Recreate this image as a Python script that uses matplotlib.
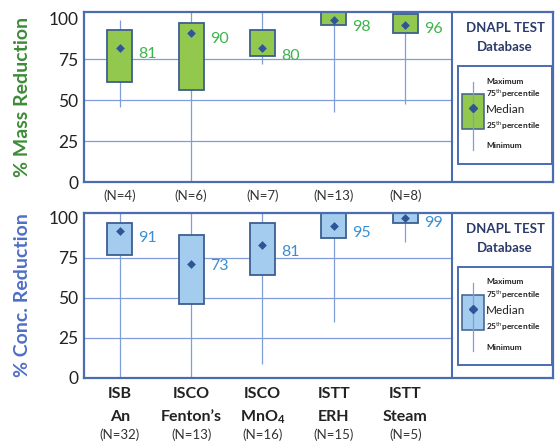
import matplotlib
matplotlib.use("Agg")
import matplotlib.pyplot as plt
from matplotlib.patches import Rectangle
from matplotlib.transforms import blended_transform_factory

plt.rcParams['font.family'] = ['Lato', 'DejaVu Sans']
plt.rcParams['mathtext.fontset'] = 'custom'
plt.rcParams['mathtext.rm'] = 'Lato'
plt.rcParams['mathtext.bf'] = 'Lato:bold'

# technologies
cat_top = ["ISB", "ISCO", "ISCO", "ISTT", "ISTT"]
cat_bot = ["An", "Fenton\u2019s", "MnO$_\\mathbf{4}$", "ERH", "Steam"]

# % mass reduction
mass_n = ["(N=4)", "(N=6)", "(N=7)", "(N=13)", "(N=8)"]
mass_min = [46, 0, 72, 43, 48]
mass_q1 = [61, 56, 77, 96, 91]
mass_med = [82, 91, 82, 99, 96]
mass_q3 = [93, 97, 93, 105, 103]
mass_max = [99, 105, 105, 105, 105]
mass_lbl = ["81", "90", "80", "98", "96"]

# % concentration reduction
conc_n = ["(N=32)", "(N=13)", "(N=16)", "(N=15)", "(N=5)"]
conc_min = [0, 0, 9, 35, 85]
conc_q1 = [76.5, 46, 64, 87.5, 97]
conc_med = [92, 71, 83, 95, 100]
conc_q3 = [97, 89, 97, 105, 105]
conc_max = [105, 105, 105, 105, 105]
conc_lbl = ["91", "73", "81", "95", "99"]

W, H = 555, 445
FRAME = "#4a6db0"
GRID = "#7f9ed8"
EDGE = "#3d5f90"
DIAM = "#2f5597"
NAVY = "#2b3a6b"

fig = plt.figure(figsize=(W / 100, H / 100), dpi=100)


def px(x, y):
    return x / W, 1 - y / H


def panel(rect, ymax, mins, q1, med, q3, maxs, lbls, fill, lblcolor, ylab, ylabcolor,
          frame_top, lbl_dy):
    ax = fig.add_axes(rect)
    xs = [1, 2, 3, 4, 5]
    ax.set_xlim(0.5, 7.07)
    ax.set_ylim(0, ymax)
    div = 5.65
    for g in [25, 50, 75]:
        ax.plot([0.5, div], [g, g], color=GRID, lw=0.9, zorder=1)
    ax.vlines(xs, mins, maxs, color=GRID, lw=0.9, zorder=1)
    heights = [b - a for a, b in zip(q1, q3)]
    ax.bar(xs, heights, bottom=q1, width=0.35, color=fill, edgecolor=EDGE,
           linewidth=1.3, zorder=2)
    ax.scatter(xs, med, marker="D", s=20, color=DIAM, zorder=3, linewidths=0)
    for x, m, t, dy in zip(xs, med, lbls, lbl_dy):
        ax.annotate(t, (x + 0.26, m), xytext=(0, dy), textcoords="offset points",
                    ha="left", va="center", fontsize=11.5, color=lblcolor)
    ax.axvline(div, color=FRAME, lw=1.5, zorder=4)
    for s in ax.spines.values():
        s.set_color(FRAME)
        s.set_linewidth(1.6)
    ax.set_xticks([])
    ax.set_yticks([0, 25, 50, 75, 100])
    ax.tick_params(axis="y", length=0, labelsize=12.5, labelcolor="#222222", pad=4)
    ax.set_ylabel(ylab, fontsize=14, fontweight="bold", color=ylabcolor)

    # legend panel, in figure pixels relative to the frame top
    t = frame_top
    fig.text(*px(505, t + 16), "DNAPL TEST", ha="center", va="center",
             fontsize=9.5, fontweight="bold", color=NAVY)
    fig.text(*px(505, t + 35), "Database", ha="center", va="center",
             fontsize=9.5, fontweight="bold", color=NAVY)
    bx0, by0 = px(458, t + 152)
    bx1, by1 = px(552, t + 54)
    fig.add_artist(Rectangle((bx0, by0), bx1 - bx0, by1 - by0, transform=fig.transFigure,
                             facecolor="white", edgecolor=FRAME, lw=1.4))
    wx, wy0 = px(473, t + 138)
    _, wy1 = px(473, t + 70)
    fig.add_artist(plt.Line2D([wx, wx], [wy0, wy1], transform=fig.transFigure,
                              color=GRID, lw=0.9))
    rx0, ry0 = px(462, t + 117)
    rx1, ry1 = px(484, t + 82)
    fig.add_artist(Rectangle((rx0, ry0), rx1 - rx0, ry1 - ry0, transform=fig.transFigure,
                             facecolor=fill, edgecolor=EDGE, lw=1.1))
    dx, dy_ = px(473, t + 96)
    fig.add_artist(plt.Line2D([dx], [dy_], transform=fig.transFigure, marker="D",
                              markersize=4, color=DIAM, lw=0))
    items = [("Maximum", 69, 6.0), ("75$^{\\rm th}$percentile", 82, 6.0),
             ("Median", 97, 8.5), ("25$^{\\rm th}$percentile", 114, 6.0),
             ("Minimum", 134, 6.0)]
    for txt, yy, fs in items:
        fig.text(*px(486, t + yy), txt, ha="left", va="center", fontsize=fs,
                 color="#222222", fontweight="bold" if fs < 7 else "normal")
    return ax


ax1 = panel([84 / W, 1 - 182 / H, 469 / W, 170 / H], 104, mass_min, mass_q1, mass_med,
            mass_q3, mass_max, mass_lbl, "#92c84e", "#3cb54a", "% Mass Reduction",
            "#3d8b37", 12, [-4, -4, -6, -5, -3])
ax2 = panel([84 / W, 1 - 378 / H, 469 / W, 165 / H], 103, conc_min, conc_q1, conc_med,
            conc_q3, conc_max, conc_lbl, "#a4ccee", "#3a8fd4", "% Conc. Reduction",
            "#4f6fc6", 213, [-5, -1, -5, -5, -4])
ax1.yaxis.set_label_coords(-0.113, 0.5)
ax2.yaxis.set_label_coords(-0.113, 0.5)

tr1 = blended_transform_factory(ax1.transData, ax1.transAxes)
for i, n in enumerate(mass_n):
    ax1.text(i + 1, -0.078, n, transform=tr1, ha="center", va="center",
             fontsize=9.5, color="#333333")

tr2 = blended_transform_factory(ax2.transData, ax2.transAxes)
for i in range(5):
    ax2.text(i + 1, -0.10, cat_top[i], transform=tr2, ha="center", va="center",
             fontsize=11.5, fontweight="bold", color="#222222")
    ax2.text(i + 1, -0.235, cat_bot[i], transform=tr2, ha="center", va="center",
             fontsize=11.5, fontweight="bold", color="#222222")
    ax2.text(i + 1, -0.345, conc_n[i], transform=tr2, ha="center", va="center",
             fontsize=9.5, color="#333333")

fig.savefig("out.png", dpi=100)
